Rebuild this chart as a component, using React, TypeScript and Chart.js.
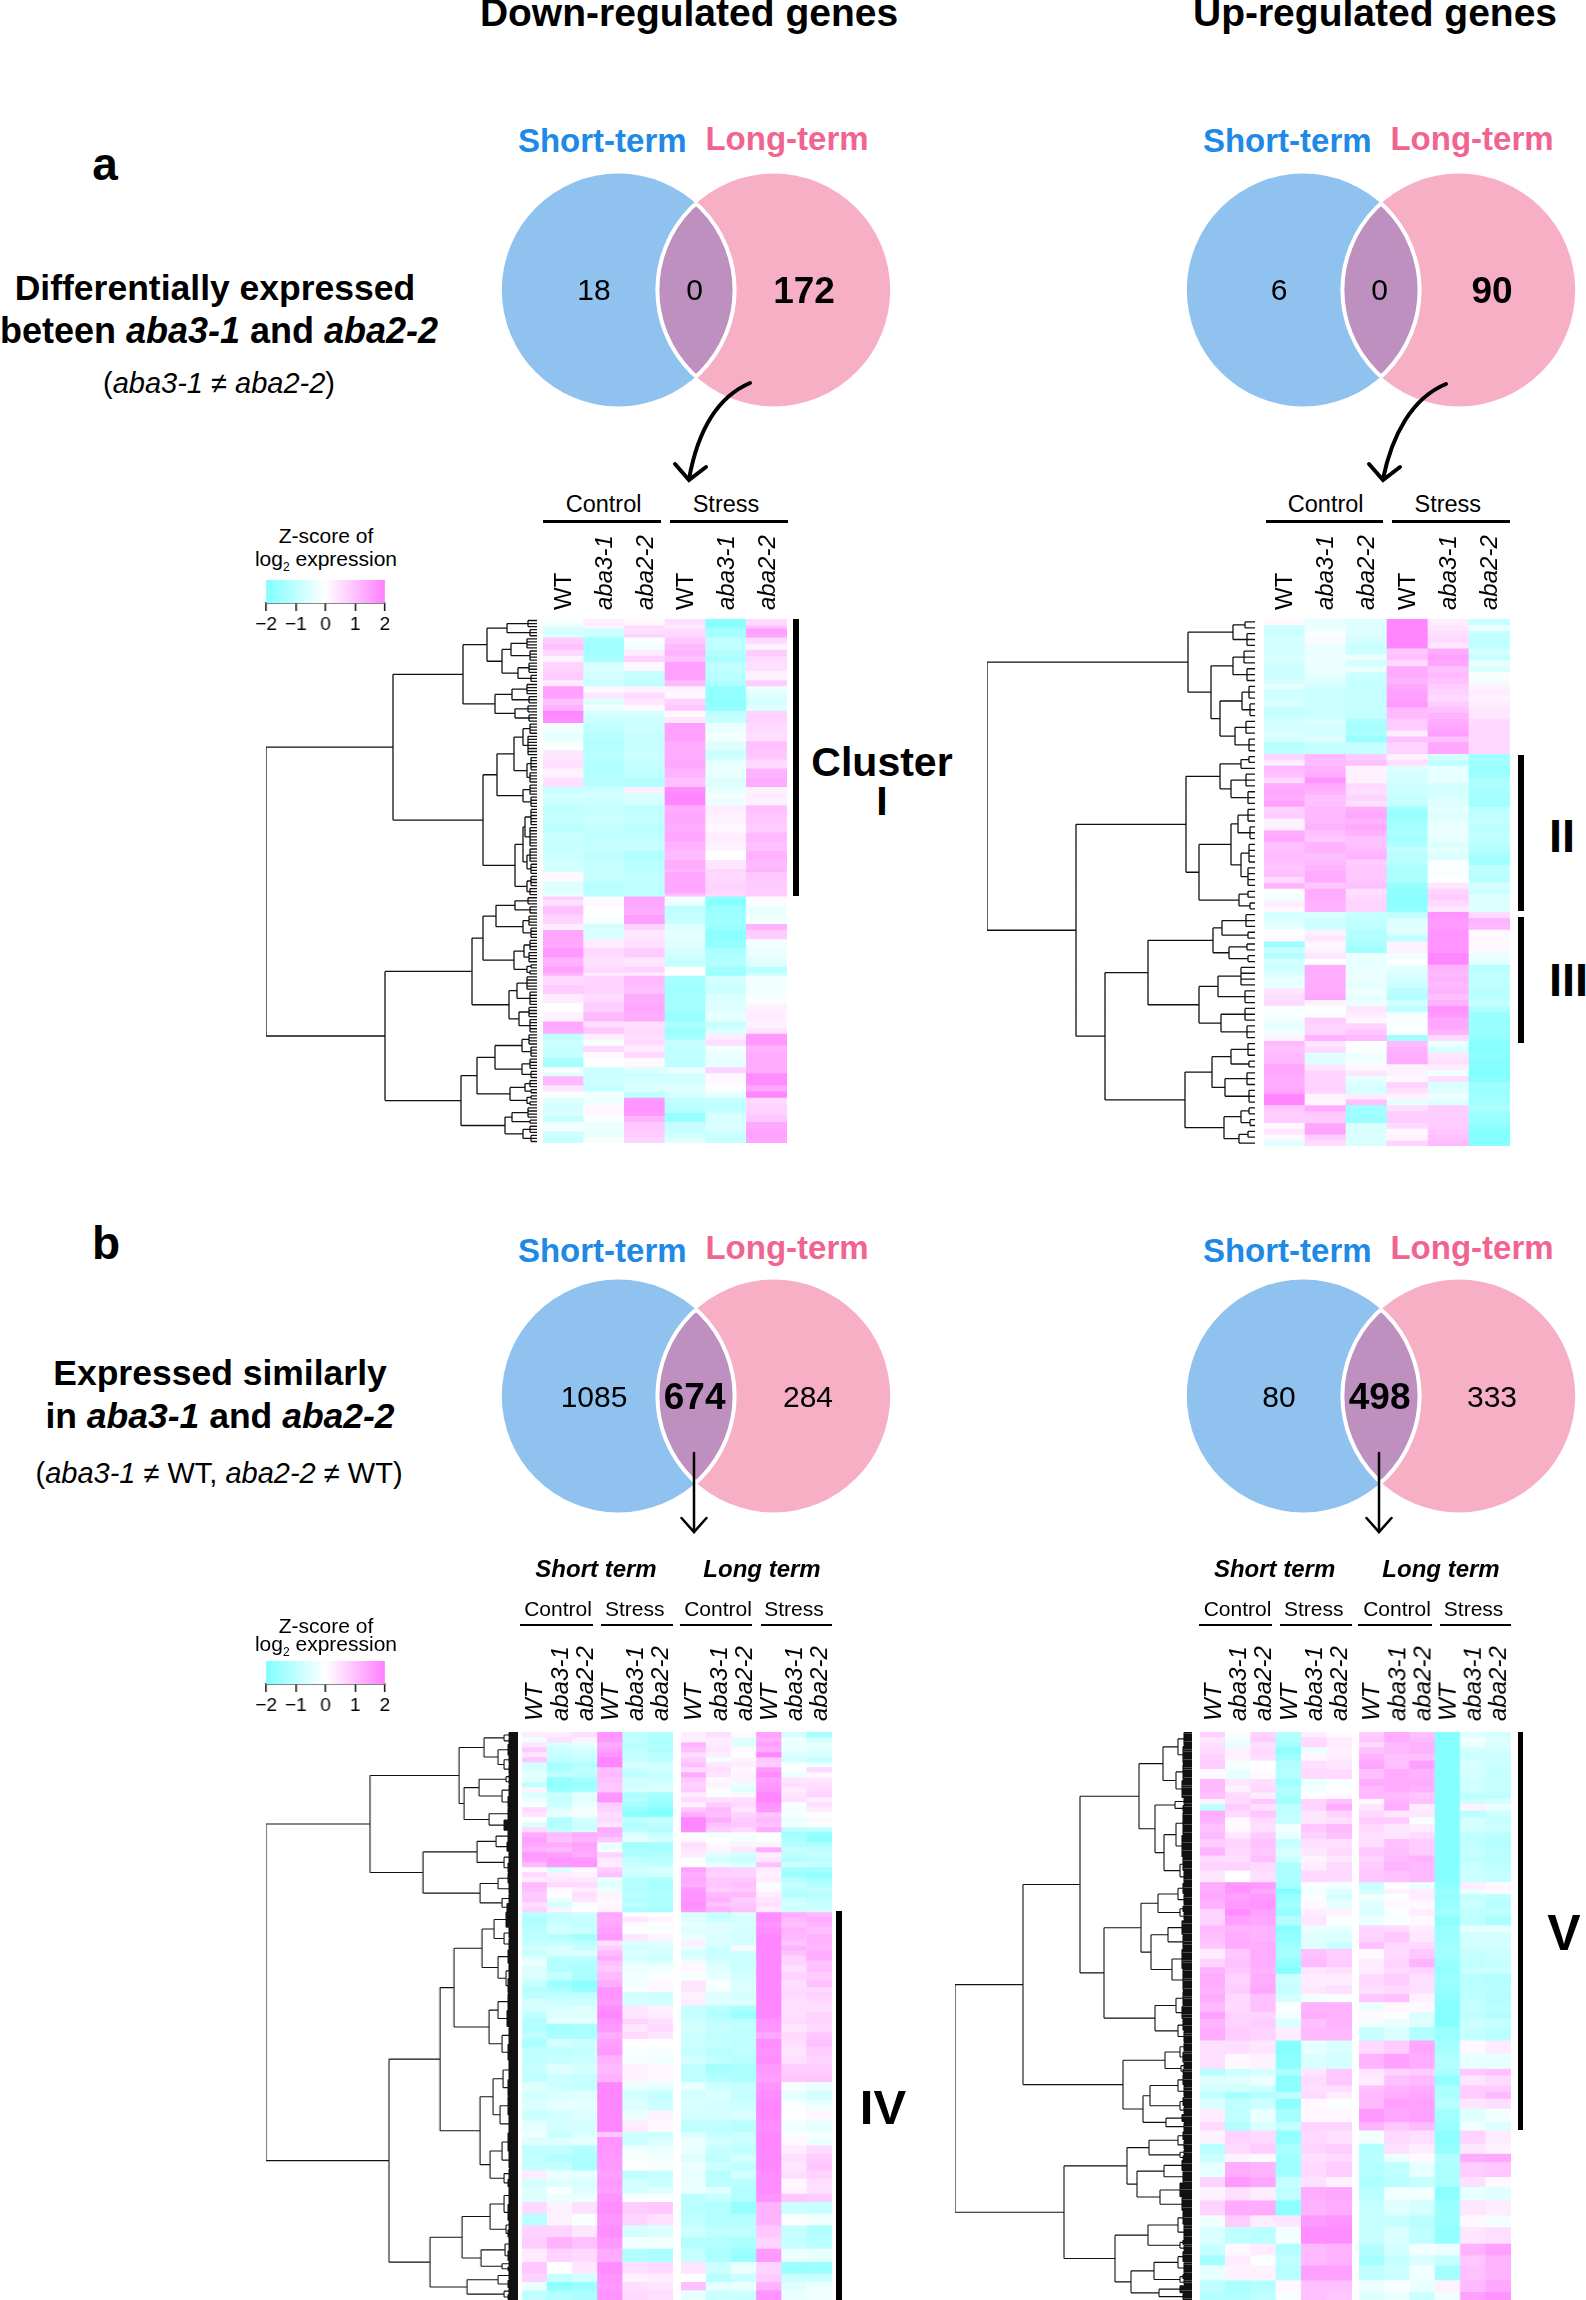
import React, { useEffect, useRef } from "react";
import { Chart, registerables } from "chart.js";

Chart.register(...registerables);

const FONT = '"Liberation Sans", Arial, sans-serif';

// ---------- Venn counts ----------
const vennDownDiff = [18, 0, 172];
const vennUpDiff = [6, 0, 90];
const vennDownSimilar = [1085, 674, 284];
const vennUpSimilar = [80, 498, 333];

// ---------- tick labels ----------
const samples = ["WT", "aba3-1", "aba2-2", "WT", "aba3-1", "aba2-2"];
const legendTicks = [-2, -1, 0, 1, 2];

// ---------- heat maps: [band size, z-scores per sample] ----------
const heatDownDiff = [
[2,-.1,.3,.1,.5,-1.9,.6],[1,-.5,.2,.6,.3,-1.8,1],[2,-.7,-.8,.5,.6,-1.4,1.5],[1,-.6,-.8,.7,.6,-1.4,1.4],
[2,.8,-1.4,-.1,.9,-1,.6],[2,1,-1.5,-.2,1.1,-1,.2],[2,.6,-1.4,.3,1.2,-1.2,.8],[2,.2,-1.3,.7,1,-1.3,.6],
[3,.7,-.6,.1,1.5,-1,.5],[3,.8,-.7,-.9,1.5,-1.1,.2],[2,.3,-.8,-1,1.1,-1.3,.8],
[2,1.5,.1,.2,.2,-1.7,-.3],[2,1.5,.4,.6,.1,-1.7,-.5],[2,1,-.5,.4,.7,-1.8,-.7],[2,1.2,-.2,.1,.9,-1.7,-.5],[2,1.9,-.7,-.7,.1,-1,.7],[2,1.8,-.8,-.8,.4,-.9,.7],
[3,-.2,-1,-.8,1.5,-.3,.6],[3,-.4,-1.1,-.9,1.5,-.2,.5],[3,-.1,-1.2,-.9,1.3,-.5,1],[3,.4,-1.1,-.8,1.3,-.8,.9],[3,.5,-1.2,-.9,1.4,-.4,.6],[3,.2,-1.2,-1,1.2,-.3,1.2],[3,.5,-1.1,-1.2,1,-.5,1.3],
[2,-.9,-.8,.3,1.8,-.4,.2],[2,-.7,-.7,-.6,1.9,-.2,.3],[2,-.8,-.8,-.7,1.9,-.3,.2],
[3,-1,-.9,-1,1.3,.3,1],[3,-.9,-.8,-.9,1.4,.2,.9],[3,-1.1,-.9,-1.1,1.3,.1,.8],[3,-.8,-1,-1,1.4,.3,1.1],[3,-.9,-.9,-.9,1.2,.2,1],[3,-.8,-1,-1.2,1.1,0,1.2],[3,-.7,-.9,-1.1,1.3,.4,1.1],[1,-.7,-.9,-1.1,1.1,.7,1.2],
[3,.1,-.9,-1,1.4,.6,.9],[4,-.5,-1.1,-1,1.4,.7,.8],[1,-.4,-1.1,-1,1,.6,.8],
[1,.8,-.1,1.4,-.2,-1.8,.1],[2,.5,.1,1.4,-.3,-1.9,-.1],[3,1,0,1.3,-1,-1.6,-.3],[3,.7,-.1,1.5,-.9,-1.5,-.2],[2,.3,-.7,.7,-.5,-1.6,1.2],[3,1.4,-.6,.4,-.4,-1.8,.8],[3,1.4,.3,.5,-.5,-1.7,-.2],[3,1.6,.6,.8,-.7,-1.3,-.3],[3,1.2,.5,.4,-.9,-1.2,-.5],[2,1.5,.6,.7,0,-1.5,-1.1],[1,1.2,.3,.3,0,-1.6,-.8],
[3,.6,.7,1.1,-1.4,-.7,-.2],[3,.8,.7,1,-1.5,-.8,-.2],[3,.3,.6,1.3,-1.4,-.6,-.1],[3,0,.8,1.4,-1.4,-.5,.2],[3,.2,1.1,1.3,-1.6,-.4,.3],[2,1.4,.5,.5,-1.3,-.9,.2],[2,1.3,.9,.6,-1.6,-.6,.4],
[2,-1,.3,.5,-1.4,.3,1.6],[2,-.8,-.1,.6,-.9,.5,1.6],[2,-.9,.6,.3,-1,-.2,1.2],[2,-.9,.1,.6,-1,-.3,1.3],[3,-1.4,0,.1,-1,-.4,1.3],[2,-.1,-.8,-.6,-.3,.7,1.3],[1,-.6,-.8,-.9,-.7,.1,1.8],[3,1.1,-.8,-.7,-.7,.1,1.8],[2,.4,-.9,-.5,-.5,-.1,1.4],[2,-.1,-.2,-1,-.6,-.4,1.9],
[2,-.5,-.3,1.6,-1,-.9,.6],[3,-.7,.1,1.7,-1.1,-1,.7],[1,-.5,.1,1.6,-1.7,-.6,.8],[2,-.9,-.1,1.2,-1.6,-.6,.9],[3,-.2,-.3,.9,-.9,-.6,1.4],[2,-.8,-.3,.8,-.8,-.8,1.5],[2,-.9,-.1,.7,-.5,-.9,1.4],
];

const heatUpDiff = [
[1,.1,-.4,-.5,1.9,.3,-.9],[1,-.8,-.3,-.5,1.9,.4,-.3],[1,-.8,-.1,-.5,1.9,.5,-.9],[1,-.7,.1,-.7,1.9,.6,-1],[1,-.7,-.3,-.8,1.9,.4,-1],[1,-.7,-.3,-.8,.9,1.3,-.7],[1,-.6,-.3,-.3,1,1.5,-.9],[1,-.7,-.3,-.7,.6,1.4,-.4],[1,-.8,-.3,-.3,1.3,1,-.6],[1,-.8,-.4,-.8,1.3,1.1,-.1],
[1,-.7,-.5,-.9,1.2,1,-.2],[1,-.4,-.7,-.9,1.4,.8,.2],[1,-.8,-.8,-.9,1.5,.7,.3],[1,-.7,-.8,-.9,1.5,.6,.2],[1,-.6,-.8,-.9,1.6,.8,.3],[1,-.9,-.8,-.9,1.1,1,.4],[1,-.9,-.8,-.9,1.1,1.2,.4],[1,-.7,-.6,-1.3,.8,1.3,.6],[1,-.7,-.7,-1.4,.8,1.4,.6],[1,-.6,-.7,-1.3,.3,1.5,.6],
[1,-.7,-.5,-1.6,1,1,.6],[1,-1.2,-.9,-.9,.7,1.4,.6],[1,-1,-.9,-.9,.7,1.4,.6],[1,.7,1.1,.8,.2,-.7,-1.5],[1,.3,1.1,1,.5,-1,-1.5],[1,1.1,1.2,.2,-.5,-.4,-1.6],[1,1,1.3,.2,-.7,-.4,-1.6],[1,.6,1.7,.2,-.7,-.4,-1.3],[1,1.3,1.3,.6,-.8,-.7,-1.3],[1,1.4,1.2,.5,-.8,-.7,-1.4],
[1,1.3,1,.7,-.9,-.6,-1.4],[1,1.5,1,.5,-.9,-.5,-1.5],[1,.7,1.1,1.3,-1.5,-.4,-1],[1,.8,1.1,1.4,-1.6,-.5,-1],[1,.2,1.1,1.2,-1.5,-.4,-.9],[1,.2,1.2,1.4,-1.4,-.3,-1.1],[1,1.3,1,1.2,-1.3,-.3,-1],[1,1.4,.9,1,-1.5,-.4,-1],[1,1,1.2,1,-1.2,-.5,-1.1],[1,1,1.2,1.1,-1,-.4,-1.2],
[1,1.1,1,1.2,-1.1,-.6,-1.4],[1,1,1.1,.8,-1.1,-.1,-1.5],[1,.9,1.2,.9,-1.3,-.1,-1],[1,1,1.3,.9,-1.3,-.1,-1.1],[1,.6,1.3,.9,-1.3,0,-1.1],[1,1.2,.9,1,-1.7,.4,-.7],[1,0,1.3,.5,-1.8,.7,-.8],[1,-.2,1.3,.6,-1.8,.8,-.5],[1,.3,1.2,.7,-1.8,.6,-.6],[1,.1,1.2,.7,-1.7,.4,-.5],
[1,-.7,-.6,-.9,-1,1.7,.6],[1,-.6,-.8,-1,-.5,1.6,1.2],[1,-.4,-.8,-1,-.5,1.6,1.1],[1,0,.2,-1.2,-.5,1.7,.1],[1,.1,.4,-1.2,-1,1.7,.1],[1,-1.6,.1,-1.3,.2,1.7,.1],[1,-.9,.2,-1.5,.2,1.7,.1],[1,-1.2,.4,-.3,-.2,1.9,-.4],[1,-.7,0,-.4,0,1.9,-.4],[1,-.8,1.3,-.3,-.4,1.2,-1.1],
[1,-.6,1.3,-.3,-.6,1.1,-1],[1,-.4,1.3,-.3,-.7,1.2,-1],[1,-.4,1.3,-.4,-.8,1.1,-1],[1,.4,1.3,-.2,-1.1,1.2,-1.1],[1,.5,1.4,-.4,-1.2,1,-1.1],[1,.6,.2,-.3,-.7,1.2,-.9],[1,-.1,0,.4,-1,1.7,-1.2],[1,-.1,-.1,.3,-.2,1.6,-1.6],[1,-.2,.8,.1,-.1,1.4,-1.6],[1,-.4,.7,.7,-.1,1.4,-1.6],
[1,-.2,.7,.9,-.1,1.2,-1.6],[1,.2,1.2,1.1,-1.5,.6,-1.7],[1,1.1,.4,0,1.1,-.3,-1.9],[1,1,.6,-.1,1.2,-.6,-1.9],[1,1.1,-.5,-.2,1.3,.4,-1.8],[1,1.1,-.5,-.2,1.3,.5,-1.9],[1,1.4,.4,.1,.2,.3,-1.9],[1,1.4,.7,.4,.2,-.2,-2],[1,1.3,.7,-.4,.1,.5,-1.9],[1,1.3,.7,-.6,.7,-.6,-1.5],
[1,1.4,.7,-.7,.5,-.5,-1.6],[1,1.9,.2,.3,.2,-.3,-1.5],[1,1.9,.1,1,-.4,-.5,-1.5],[1,.9,1.3,-1.5,.5,.8,-1.3],[1,.8,.9,-1.5,.8,.8,-1.6],[1,.8,.8,-1.6,.8,.8,-1.6],[1,.1,1.4,-.6,.6,.8,-1.8],[1,.4,1.5,-.6,.1,.9,-1.9],[1,.1,.8,-.6,.2,1,-1.9],[1,-.5,.6,-.6,.7,1.1,-1.9],
];

const heatDownSimilar = [
[3,.3,.3,.5,1.7,-1,-1.2,.3,.5,.1,1.5,-.7,-1.4],[3,-.2,.5,.2,1.6,-1,-1.3,.2,.3,-.5,1.3,-.2,-.7],[3,.4,-.6,-.4,1.3,-1.1,-1.2,1.2,.3,-.5,1.5,-.3,-.4],[3,.8,-.8,-.7,1.5,-1,-1.3,1,.4,.1,1.3,-.4,-.5],[3,.4,-.9,-.8,1.7,-.9,-1,.5,.3,0,1.9,-.6,-.6],[3,.9,-1,-.9,1.9,-.9,-1.1,.8,-.2,.2,.9,-.7,-.9],
[3,-.7,-1.4,-1.2,1.9,-.6,-.7,1,.4,.3,.8,-.1,-.3],[3,-.6,-1.3,-1,1,-.9,-.8,.6,.5,.1,1.6,-.1,.6],[3,-.4,-1,-1.1,1.1,-1,-.9,1.3,.4,.2,1.8,-.3,.1],[3,-.5,-1.7,-1.4,1,-.7,-.8,.9,.1,.2,1.5,.4,.4],[3,-1,-1.7,-1.6,.9,-.8,-.6,.7,.2,-.3,1.6,.5,.5],[3,.2,-1.6,-1.4,.9,-.6,-.6,.8,-.1,-.5,1.7,.3,.6],
[3,-.6,-.8,-.4,1.6,-1.3,-1.4,.3,-.1,.1,1.9,.4,.7],[3,-.3,-.9,-.5,1.7,-1.2,-1.5,.6,.5,.5,1.9,.5,.3],[3,-.1,-.8,-.3,.8,-1.4,-1.7,.2,.8,.6,1.7,-.1,.5],[3,.6,-.5,-.2,.7,-1.7,-1.9,.9,1.1,.4,1.6,-.2,.3],[3,.4,-.3,-.2,.5,-1.8,-1.9,1.3,1,.7,.9,-.1,-.1],[3,0,-1.2,-.7,.6,-1,-.9,1.9,1.3,.8,1.1,-.3,.1],[3,-.6,-1.2,-.8,.4,-1.2,-1,1.9,1,.9,1,-.2,-.1],[3,.6,-1,-.7,1.3,-1.1,-1.2,1.8,.8,.6,1.3,-1.1,-1],
[3,1.3,1.1,1.3,1.2,-.6,-.8,-.1,-.2,-.1,-.1,-1.5,-1.7],[3,1.5,1,1.2,.9,-.4,-.7,.1,0,-.2,-.1,-1.3,-1.8],[3,1.4,1.3,1.5,-.3,-1.5,-1.4,.5,.1,.2,.2,-1.2,-1.2],[3,1.2,1.1,1.4,-.2,-1.3,-1.4,.4,.2,.4,1.3,-.9,-1],[3,1.6,1.5,1.3,.7,-1.3,-1.2,.3,-.5,-.7,.3,-1,-.9],[3,1.5,1.7,1.6,.4,-1,-1.1,-.1,-.7,-.9,.4,-1.2,-1.1],[3,1.1,1.6,1.7,.3,-.9,-1,0,-.4,-.6,1,-.8,-.9],
[3,.1,-.6,.1,.8,-.7,-.6,1.5,.8,.7,.3,-1.4,-1.5],[3,.6,.3,.2,1,-.8,-.7,1.3,.7,.7,.2,-1.6,-1.7],[3,.3,.4,.4,-.4,-1.2,-1.3,1.4,.9,.9,.3,-1.1,-1.4],[3,1.1,.6,.6,-.5,-1.1,-1.4,1.3,.9,1,-.1,-.9,-1.2],[3,1,.1,.3,-.3,-1.2,-1.3,1.6,.8,.9,.1,-1.1,-1],[3,.8,0,.5,.2,-1.1,-1.2,1.7,1.1,1.1,.3,-1.2,-1.1],[3,.9,-.3,.4,.1,-1.2,-1.3,1.7,1.2,.8,.4,-.8,-1],[3,.5,-.7,-.1,.1,-1,-1.2,1.8,1,.9,.5,-.7,-.9],[3,.7,.2,0,.2,-1.3,-1.4,1.6,1.2,1,.3,-.8,-.7],
[3,-1.1,-.9,-.8,1.4,.1,0,-.6,-.9,-.6,1.8,1.3,1.1],[3,-1.3,-.9,-.9,1.3,.4,.2,-.5,-.8,-.7,1.8,1.1,1.3],[3,-1.2,-.8,-.9,1.4,.1,-.1,-.4,-.5,-.6,1.7,1,1.2],[4,-1.1,-.7,-.8,1.5,-.1,-.1,-.5,-.5,-.7,1.8,1.2,1],[4,-1,-1.2,-1.4,1.6,.4,.2,-.3,-.6,-.7,1.9,1.1,1.2],[3,-.9,-.9,-1,.5,-.5,-.5,.3,-.6,-.7,1.9,.9,1.2],[3,-.7,-.6,-.9,.8,-.7,-.6,-.4,-.8,.1,1.9,1.2,1.1],[3,-.9,-.6,-.5,1.1,-.6,-.7,-.7,-.8,-.8,1.9,1,1.3],[3,-.5,-1,-1,1.3,-.7,-.8,-.6,-.8,-.8,1.9,.7,1.3],[3,-.3,-1.2,-1.2,1,-.4,-.5,.1,-.6,-.8,1.9,.7,.9],
[4,-.5,-1.2,-1.3,.9,-.3,-.2,.1,-.5,-.8,1.9,.5,1],[5,-.6,-.9,-1.3,1.1,-.2,-.1,-.1,-.4,-.7,1.9,.7,.8],[4,-.9,-1.6,-1.8,1.3,-.2,.1,.4,-.1,-.6,1.9,.5,1],[3,-1.2,-1.3,-1.7,1.7,-.1,.1,.4,-.2,-.5,1.9,.6,.6],[4,-1,-1,-1,1.7,-.7,-.8,.2,-.5,-.7,1.9,.6,.7],[4,-.7,-.8,-.8,1.6,-.7,-.7,.3,-.5,-.5,1.9,.5,.6],[4,-.7,-.6,-.5,1.8,.4,.2,-.9,-1.1,-1.3,1.9,.5,.5],[4,-1,-.5,-.5,1.9,.4,.3,-.9,-1.2,-1.6,1.9,.5,.7],
[3,-1.2,-.4,-.4,1.7,.7,.5,-.8,-1,-1,1.7,.6,.7],[5,-1.2,-1.4,-1.3,1.6,.4,.6,-.7,-.9,-1,1.7,.4,.6],[4,-1,-1.3,-1.3,1.3,.6,.4,-.8,-1,-1,1.4,.6,.9],[5,-1.3,-.7,-.8,1.5,0,0,-.8,-.9,-1,1.8,.5,1],[5,-1,-1,-.9,1.6,-.1,-.1,-.9,-1.1,-1,1.7,.4,.8],[5,-1,-.9,-.8,1.2,-.1,-.2,-.7,-1,-1.1,1.8,.5,.7],[6,-.9,-.5,-.7,1.1,.2,.1,-1,-1.4,-1.3,1.6,.8,.8],[5,-1,-.8,-.9,1.2,.2,.1,-1,-1.2,-1.3,1.5,.9,.9],
[5,-.5,-.8,-.9,1.9,-.3,-.4,-.4,-.8,-.9,1.7,-.1,-.3],[6,-.7,-.6,-.5,1.9,-.7,-.9,-.7,-.6,-.9,1.8,-.4,-.7],[6,-.6,-.4,-.4,1.9,-.5,-.8,-.6,-.7,-.8,1.9,-.1,-.3],[6,-.8,-.7,-.5,1.9,-.3,.2,-.7,-.7,-.6,1.9,0,.1],[7,-.4,-.7,-.7,1.9,.3,.1,-1,-1,-1.1,1.8,-.2,-.4],[3,-.2,-.9,-.5,.9,-.8,-.8,-.6,-.9,-.8,1.9,-.1,-.1],[5,-.5,-.5,-.4,1.7,-.8,-.6,-.3,-.7,-.8,1.9,.1,-.3],[5,-1,-1,-1.2,1.7,-.2,-.3,-.3,-.9,-1,1.9,.3,.6],
[5,-1,-1.2,-1.3,1.6,-.1,-.2,-.5,-1,-.7,1.9,.5,.8],[5,-.9,-.9,-1.3,1.6,0,-.1,-.3,-.8,-1,1.9,.4,.9],[5,.3,-.3,-.4,1.5,-1,-.9,-.4,-1.1,-.7,1.8,.5,.7],[5,-.7,-.5,-.6,1.6,-.7,-.8,-.3,-1.1,-1.1,1.8,.1,.5],[4,-.5,-.1,-.5,1.5,-.7,-.5,-.3,-.5,-1.2,1.8,.2,.5],[5,-.5,-.3,-.3,1.7,-.1,-.1,-1.1,-.9,-1.2,1.7,.9,.8],[7,.6,.2,.5,1.8,.8,.9,-1.1,-1.2,-1.7,1.2,-.8,-.9],[7,-1.1,.2,-.1,1.7,.7,.5,-1,-1.2,-1.2,1.2,-.1,-.2],
[7,.7,.7,.4,1.8,-.7,-.6,-.8,-1,-1,.9,-.9,-1.2],[7,.8,1.2,1,1.6,-.2,-.2,-1.2,-1.2,-1.3,.7,-.9,-1.1],[8,.3,.7,.6,1.3,-1.2,-1.3,-.9,-1.3,-1.6,1.6,-.3,-.4],[7,.9,0,.4,1.8,.5,.6,.4,-.8,-.3,.7,-1.6,-1.6],[5,.7,-.9,-.7,1.7,.2,.3,0,-1.1,-.8,.8,-.8,-.8],[5,-.3,-1.8,-1.6,1.6,.5,.4,1,-.4,-.3,1.2,-.5,-.3],[6,-1,-1.2,-1.3,1.7,.6,.5,-.4,-.8,-.8,1.7,-.3,-.2],
];

const heatUpSimilar = [
[3,.7,-.1,.7,-1.2,.3,.1,.8,1.3,1,-1.9,-.5,-.7],[3,.4,-.2,.8,-1.2,.6,.3,.9,1.3,1.1,-1.9,-.2,-.5],[3,.5,-.4,.5,-1.4,.6,.3,.6,1.1,1.2,-1.9,-.3,-.6],[4,.6,.2,.6,-1.8,-.3,.2,1,1.1,1.2,-1.9,-.7,-.7],[4,.7,.2,.5,-1.5,.1,.3,1.2,1,1,-1.9,-.8,-.8],[5,.8,-.1,0,-1.2,.5,.4,1.4,1,1.5,-1.9,-.6,-.8],[6,.1,-.4,.1,-1.2,.6,.6,1,1.3,1.2,-1.9,-.7,-.9],[4,1.1,.4,.5,-1.5,-.3,-.1,1.3,1.3,1.3,-1.9,-.8,-.9],[4,1.1,.2,.6,-1.2,-.2,0,1.1,1.3,1.2,-1.9,-.7,-.9],[4,1,.6,.3,-1.3,0,.1,1.1,1.1,.9,-1.9,-1,-1],
[3,.2,.6,.9,-1.5,.7,1,.1,1.2,1,-1.9,-.8,-.7],[4,-1,.8,.5,-1,.7,1.3,.4,1.3,.3,-1.9,.2,-.3],[4,1.3,.6,.9,-1,.4,.7,.6,.4,.4,-1.9,-1.1,-.8],[4,1.2,.1,.6,-.9,.4,.5,.8,.8,-.1,-1.9,-.7,-.9],[5,1,.1,.5,-.2,.9,1.1,.6,.4,.3,-1.9,-.7,-.8],[4,1.1,.4,.8,-.4,.7,1,.5,.4,.6,-1.9,-1,-1.1],[5,.8,.7,1,-.9,.5,.5,.5,1,.8,-1.9,-1,-1.2],[5,1.2,.6,.9,-.6,.4,.6,.9,1,.8,-1.9,-.9,-1.1],[4,.6,.5,1,-.8,.2,.4,.7,1.1,1.2,-1.9,-1,-1.1],[5,.7,.7,.6,-1.3,.3,.6,.8,1.2,1.1,-1.9,-.8,-1],[7,.4,0,.5,-1.3,.6,.6,.9,1,1.1,-1.9,-.8,-.9],
[4,1.3,1.7,1.6,-1.4,-.1,-.2,-.8,0,-.3,-1.8,.3,.1],[3,1.3,1.7,1.4,-2,-.2,-.5,-.7,.2,.3,-1.6,-.3,.1],[4,1.4,1.5,1.6,-1.6,-.1,-.7,-.2,-.1,.3,-1.7,-.9,-1],[5,1.2,1.6,1.7,-1.5,.1,-.4,-.5,.1,.1,-1.6,-.8,-1.1],[4,.7,1.8,1.5,-1.7,.3,.2,-.6,-.1,.3,-1.5,-1,-1],[6,.7,1.5,1.4,-1.2,.4,-.1,-.3,-.1,.1,-1.8,-1,-1.3],[4,1.1,1.2,1.2,-1.9,-.3,-.4,.7,.6,.3,-1.6,-.4,-.4],[6,1,1.3,1.2,-1.7,-.5,-.6,.7,.9,.4,-1.6,-.7,-.7],[4,.9,1.3,1.3,-1.5,-.5,-.9,1,.6,.6,-1.5,-.7,-.7],[6,.3,.9,1.3,-1.4,1,.8,.1,.6,.9,-1.5,-.9,-.8],[5,.7,1,1.3,-1.7,1.1,.8,.3,.7,1.2,-1.6,-1,-.9],[4,1.2,.9,1.2,-1.9,.4,.5,.3,.6,.7,-1.7,-.8,-.8],[7,1.3,.7,1.3,-.8,.3,.3,.6,.8,.5,-1.6,-1.1,-1.2],[5,1.2,.8,1.4,-.9,.4,.5,.5,.6,.5,-1.7,-1.1,-1.1],[5,1.3,.6,1,-.7,-.2,-.1,.9,1,.2,-1.8,-1,-1.2],[6,1.1,.6,1,-.1,1.2,1.2,-.3,.1,.1,-1.9,-.9,-1.1],[4,1.5,.7,.7,-.2,1.3,1.2,.1,0,-.6,-1.9,-1,-1.2],
[5,1.2,.7,.8,-.6,1,1.2,-.2,-.3,-.5,-1.9,-.8,-.9],[8,1.3,.8,.7,.3,1.1,1.1,-.9,-.6,-1.2,-1.6,-.9,-1.1],[8,.5,.5,.4,-1.9,-.4,-.6,.6,.8,1.4,-1.4,.1,.3],[9,.5,.1,.2,-1.8,-.6,-.7,1.2,1.5,1.3,-1.2,-.4,-.4],[4,-1.2,-.8,-.7,-1.3,.4,.9,.4,.7,.8,-1.3,.9,1],[6,-.5,-.5,-.3,-1.8,.6,.9,.3,1,1.1,-1.7,.4,.6],[4,-.7,-.7,-.8,-1.8,.5,.5,1,1.2,1.3,-1.3,.8,.8],[4,-1,-1.4,-1.2,-1,.6,.3,1.1,1.3,1.4,-1.3,.8,1.1],[6,-.6,-1,-.8,-1.8,.1,-.1,1.1,1.5,1.5,-1.1,.4,.5],[8,.3,-1,-.3,-1.4,.1,.1,1.6,1.4,1.5,-1.5,-.5,-.2],[5,.6,-1.2,-.6,-.9,.7,.7,1.2,.9,1.1,-1.6,-.2,-.5],
[8,.2,.7,.6,-1.7,.6,.5,-.2,.6,.5,-1.8,.7,.3],[6,-1.1,.6,.8,-1.3,.7,.8,-1.2,.5,.3,-1.7,.4,.2],[5,-.8,.2,.1,-1.5,.5,.6,-1.1,-.3,.1,-1.2,1.3,1.4],[9,-.4,1.3,1.2,-1.5,.6,.8,-1.2,-1,-.4,-1.3,.8,.9],[6,.7,1.6,1.4,-.9,.5,.2,-1.3,-1.1,-.9,-1.3,.5,.1],[8,.2,.5,.3,-1,1.3,1.4,-1.1,-.2,-.2,-1.8,-.4,-.5],[9,.7,1.3,1.3,-1.8,1.2,1.3,-.9,-.5,-.7,-1.6,.4,.3],[7,-.2,.8,.3,.4,1.6,1.7,-.9,-.9,-1.1,-1.6,.1,-.2],[10,-.6,-1,-1.1,-.2,1.8,1.8,-.9,-.6,-1,-1.7,.4,.5],[7,-.9,.1,.3,-1.2,1.1,1.2,-1.2,-.7,-.2,-.3,1.2,1.5],[6,-1.4,.3,-.1,-1,1.1,1.2,-1.4,-.9,-.6,-.9,.9,1.2],[9,-.4,.2,.2,-1.1,1.5,1.5,-1,-.8,-.2,-1.4,1,1.2],[7,-1,-1.3,-1.2,.1,1,1,-.3,-.1,-.3,.2,1.1,1.4],[5,-1.2,-1.2,-1,-.1,1,.9,-.5,-.3,-.8,-.2,1.5,1.7],
];

// ---------- dendrograms: [height, child, child, ...]; [height, firstRow, endRow] is a bunch of leaves ----------
const treeDownDiff = [271,
 [144,
  [74,
   [50,[30,[9,0,3],[7,3,6]],[35,[26,[10,6,10],[7,10,14]],[19,[8,14,18],[6,18,21]]]],
   [42,[25,[10,21,25],[8,25,28]],[22,[9,28,31],[8,31,34]]]],
  [54,
   [40,[23,[14,[7,34,38],[9,38,45]],[10,[6,45,50],[7,50,54]]],[14,[7,54,58],[6,58,62]]],
   [22,[14,[12,[6,62,68],[7,68,75]],[10,[7,75,80],[6,80,84]]],[10,[6,84,88],[7,88,91]]]]],
 [152,
  [65,
   [54,
    [41,[22,[9,91,94],[7,94,97]],[14,[8,97,101],[6,101,105]]],
    [23,[13,[7,105,109],[8,109,113]],[10,[6,113,115],[7,115,117]]]],
   [28,[20,[10,117,122],[7,122,127]],[18,[8,127,131],[7,131,136]]]],
  [76,
   [60,
    [42,[15,[8,136,140],[6,140,144]],[15,[7,144,148],[6,148,151]]],
    [27,[12,[7,151,154],[6,154,156]],[10,[6,156,158],[7,158,160]]]],
   [32,[25,[9,160,164],[7,164,166]],[14,[7,166,169],[6,169,172]]]]]];

const treeUpDiff = [268,
 [67,
  [22,[10,0,2],[8,2,5]],
  [44,
   [22,[11,5,8],[8,8,11]],
   [35,[13,[6,11,14],[5,14,17]],[20,[9,17,20],[6,20,23]]]]],
 [179,
  [69,
   [35,[14,[6,23,25],[5,25,26]],[24,[9,26,29],[7,29,32]]],
   [56,
    [24,[17,[7,32,35],[5,35,38]],[14,[6,38,42],[7,42,46]]],
    [16,[7,46,48],[5,48,50]]]],
  [150,
   [107,
    [42,[33,[9,50,53],[7,53,55]],[26,[8,55,57],[7,57,59]]],
    [56,[37,[14,59,63],[10,63,66]],[34,[10,66,69],[8,69,72]]]],
   [70,
    [43,[24,[7,72,75],[6,75,77]],[30,[8,77,80],[6,80,83]]],
    [31,[14,[6,83,85],[5,85,87]],[16,[7,87,89],[5,89,90]]]]]]];

const treeDownSimilar = [252,
 [148,
  [59,
   [34,[14,[9,0,7],[9,7,14]],[20,[10,14,28],[14,[9,28,38],[9,38,50]]]],
   [54,
    [39,[12,[9,50,56],[9,56,62]],[16,[9,62,76],[10,76,90]]],
    [29,[10,90,104],[14,104,117]]]],
  [95,
   [41,[22,[10,117,130],[11,130,142]],[14,[9,142,155],[10,155,167]]],
   [38,[20,[10,167,180],[9,180,192]],[16,[9,192,203],[11,203,213]]]]],
 [129,
  [78,
   [64,
    [36,[24,[12,213,232],[14,[9,232,245],[9,245,258]]],[20,[10,258,275],[12,[9,275,292],[10,292,310]]]],
    [29,[20,[10,310,330],[11,330,350]],[16,[9,350,370],[10,370,390]]]],
   [38,
    [25,[15,[9,390,412],[10,412,432]],[18,[10,432,455],[9,455,475]]],
    [28,[16,[10,475,498],[9,498,518]],[14,[9,518,530],[10,530,540]]]]],
  [88,
   [56,[28,[14,[9,540,560],[10,560,580]],[12,[9,580,590],[10,590,600]]],[37,[13,[9,600,615],[10,615,628]],[16,[9,628,634],[10,634,640]]]],
   [51,[20,[9,640,650],[10,650,660]],[14,[9,660,667],[10,667,674]]]]]];

const treeUpSimilar = [237,
 [169,
  [112,
   [53,
    [29,[14,[8,0,12],[9,12,28]],[16,[9,28,42],[10,42,58]]],
    [37,[17,[8,58,64],[9,64,70]],[28,[16,[9,70,90],[10,90,110]],[12,[9,110,122],[8,122,132]]]]],
   [88,
    [51,
     [34,[14,[9,132,142],[8,142,152]],[12,[9,152,158],[8,158,165]]],
     [41,[24,[10,165,178],[9,178,190]],[20,[10,190,208],[9,208,227]]]],
    [37,[16,[9,227,240],[10,240,252]],[14,[9,252,262],[8,262,272]]]]],
  [69,
   [27,[12,[8,272,280],[9,280,290]],[11,[8,290,295],[9,295,300]]],
   [49,[42,[14,[9,300,310],[8,310,320]],[12,[9,320,328],[8,328,335]]],[26,[10,335,342],[8,342,350]]]]],
 [128,
  [65,
   [43,[14,[9,350,358],[8,358,366]],[12,[8,366,371],[9,371,375]]],
   [55,[28,[10,375,385],[9,385,395]],[32,[12,395,408],[10,408,420]]]],
  [77,
   [44,[14,[9,420,432],[8,432,445]],[12,[9,445,450],[8,450,455]]],
   [61,[38,[14,[9,455,465],[8,465,475]],[12,[9,475,480],[8,480,485]]],[33,[12,485,492],[9,492,498]]]]]];

// ---------- styles ----------
const BLUE_CIRCLE = "#90c2f0";
const PINK_CIRCLE = "#f7afc5";
const LENS = "#bd90c0";
const zColor = (z: number) => {
  const t = Math.min(1, Math.abs(z) / 2);
  const c = Math.round(255 - 127 * t);
  return z < 0 ? `rgb(${c},255,255)` : `rgb(255,${c},255)`;
};

function ChartBox({ make, left, top, width, height }: any) {
  const ref = useRef<HTMLCanvasElement>(null);
  useEffect(() => {
    const chart = new Chart(ref.current as any, make());
    return () => chart.destroy();
  }, []);
  return <canvas ref={ref} width={width} height={height} style={{ position: "absolute", left, top, width, height, display: "block" }} />;
}

const baseOptions = {
  responsive: false,
  animation: false as const,
  events: [] as string[],
  plugins: { legend: { display: false }, tooltip: { enabled: false } },
};

// ---------- heat map ----------
function Heat({ rows, from, to, x, y, w, h, font, italicWT, axisH, pad }: any) {
  const sidePad = 10;
  const make = () => {
    const total = rows.reduce((s: number, r: number[]) => s + r[0], 0);
    return {
      type: "bar",
      data: {
        labels: samples,
        datasets: rows.map((r: number[]) => ({
          data: r.slice(from, to).map(() => r[0]),
          backgroundColor: r.slice(from, to).map(zColor),
          borderWidth: 0,
          barPercentage: 1,
          categoryPercentage: 1,
        })),
      },
      options: {
        ...baseOptions,
        layout: { padding: { left: sidePad, right: sidePad, top: 0, bottom: 0 } },
        scales: {
          x: {
            position: "top",
            stacked: true,
            grid: { display: false, drawTicks: false },
            border: { display: false },
            ticks: {
              autoSkip: false,
              minRotation: 90,
              maxRotation: 90,
              padding: pad,
              labelOffset: 30,
              color: "#000",
              font: (c: any) => ({
                family: FONT,
                size: font,
                style: c.tick && c.tick.label === "WT" && !italicWT ? "normal" : "italic",
              }),
            },
            afterFit: (s: any) => {
              s.height = axisH;
              s.paddingLeft = 0;
              s.paddingRight = 0;
              s.paddingTop = 0;
              s.paddingBottom = 0;
            },
          },
          y: { display: false, stacked: true, reverse: true, min: 0, max: total },
        },
      },
    };
  };
  return <ChartBox make={make} left={x - sidePad} top={y - axisH} width={w + 2 * sidePad} height={h + axisH} />;
}

// ---------- dendrogram ----------
function flatten(node: any[], out: any[]): { h: number; y: number } {
  const h = node[0];
  const kids = node.slice(1);
  const push = (a: number, b: number, c: number, d: number) => {
    out.push({ x: a, y: b }, { x: c, y: d }, { x: NaN, y: NaN });
  };
  if (typeof kids[0] === "number") {
    const [r1, r2] = kids;
    push(h, r1 + 0.5, h, r2 - 0.5);
    for (let r = r1; r < r2; r++) push(h, r + 0.5, 0, r + 0.5);
    return { h, y: (r1 + r2) / 2 };
  }
  const placed = kids.map((k: any[]) => flatten(k, out));
  const y0 = placed[0].y;
  const y1 = placed[placed.length - 1].y;
  push(h, y0, h, y1);
  placed.forEach((p: any) => push(h, p.y, p.h, p.y));
  return { h, y: (y0 + y1) / 2 };
}

function Dendro({ tree, rows, x, y, w, h, lw }: any) {
  const margin = 2;
  const make = () => {
    const pts: any[] = [];
    flatten(tree, pts);
    return {
      type: "scatter",
      data: { datasets: [{ data: pts, showLine: true, spanGaps: false, pointRadius: 0, borderColor: "#111", borderWidth: lw, tension: 0 }] },
      options: {
        ...baseOptions,
        layout: { padding: { left: margin, right: 0, top: 0, bottom: 0 } },
        scales: {
          x: { display: false, type: "linear", reverse: true, min: 0, max: tree[0] },
          y: { display: false, type: "linear", reverse: true, min: 0, max: rows },
        },
      },
    };
  };
  return <ChartBox make={make} left={x - margin} top={y} width={w + margin} height={h} />;
}

// ---------- colour key ----------
function ColorKey({ x, y }: any) {
  const padL = 32, padR = 32, barH = 23, axisH = 46, w = 118.4;
  const make = () => ({
    type: "bar",
    data: {
      labels: ["z"],
      datasets: [{
        data: [[legendTicks[0], legendTicks[4]]],
        barPercentage: 1,
        categoryPercentage: 1,
        borderWidth: 0,
        backgroundColor: (c: any) => {
          const a = c.chart.chartArea;
          if (!a) return "#fff";
          const g = c.chart.ctx.createLinearGradient(a.left, 0, a.right, 0);
          legendTicks.forEach((t, i) => g.addColorStop(i / 4, zColor(t)));
          return g;
        },
      }],
    },
    options: {
      ...baseOptions,
      indexAxis: "y",
      layout: { padding: { left: padL, right: padR, top: 0, bottom: 0 } },
      scales: {
        x: {
          type: "linear",
          min: -2,
          max: 2,
          position: "bottom",
          grid: { display: true, drawOnChartArea: false, drawTicks: true, tickLength: 8, color: "#111", lineWidth: 1.5 },
          border: { display: true, color: "#111", width: 1.5 },
          ticks: {
            stepSize: 1,
            autoSkip: false,
            maxRotation: 0,
            padding: 2,
            color: "#000",
            font: { family: FONT, size: 19 },
            callback: (v: number) => (v < 0 ? "\u2212" + Math.abs(v) : String(v)),
          },
          afterFit: (s: any) => {
            s.height = axisH;
            s.paddingLeft = 0;
            s.paddingRight = 0;
          },
        },
        y: { display: false },
      },
    },
  });
  return <ChartBox make={make} left={x - padL} top={y} width={w + padL + padR} height={barH + axisH} />;
}

// ---------- Venn ----------
const lensPlugin = {
  id: "lens",
  afterDatasetsDraw(chart: any) {
    const a = chart.getDatasetMeta(0).data[0];
    const b = chart.getDatasetMeta(1).data[0];
    const r = a.options.radius;
    const ctx = chart.ctx;
    ctx.save();
    ctx.beginPath();
    ctx.arc(a.x, a.y, r, 0, Math.PI * 2);
    ctx.clip();
    ctx.fillStyle = LENS;
    ctx.beginPath();
    ctx.arc(b.x, b.y, r, 0, Math.PI * 2);
    ctx.fill();
    ctx.strokeStyle = "#fff";
    ctx.lineWidth = 4;
    ctx.stroke();
    ctx.restore();
    ctx.save();
    ctx.beginPath();
    ctx.arc(b.x, b.y, r, 0, Math.PI * 2);
    ctx.clip();
    ctx.strokeStyle = "#fff";
    ctx.lineWidth = 4;
    ctx.beginPath();
    ctx.arc(a.x, a.y, r, 0, Math.PI * 2);
    ctx.stroke();
    ctx.restore();
  },
};

function Venn({ x, y }: any) {
  // x, y: page position of the midpoint between the two circles
  const W = 410, H = 250;
  const make = () => ({
    type: "bubble",
    data: {
      datasets: [
        { data: [{ x: -77.8, y: 0, r: 116.4 }], backgroundColor: BLUE_CIRCLE, borderWidth: 0, clip: false },
        { data: [{ x: 77.8, y: 0, r: 116.4 }], backgroundColor: PINK_CIRCLE, borderWidth: 0, clip: false },
      ],
    },
    options: {
      ...baseOptions,
      layout: { autoPadding: false, padding: 0 },
      scales: {
        x: { display: false, type: "linear", min: -W / 2, max: W / 2 },
        y: { display: false, type: "linear", min: -H / 2, max: H / 2 },
      },
    },
    plugins: [lensPlugin],
  });
  return <ChartBox make={make} left={x - W / 2} top={y - H / 2} width={W} height={H} />;
}

// ---------- text ----------
function T({ x, y, size, bold, italic, color, anchor, children }: any) {
  const tx = anchor === "start" ? "0" : anchor === "end" ? "-100%" : "-50%";
  return (
    <div
      style={{
        position: "absolute",
        left: x,
        top: y - 0.3465 * size,
        lineHeight: 0,
        height: 0,
        fontSize: size,
        fontWeight: bold ? 700 : 400,
        fontStyle: italic ? "italic" : "normal",
        color: color || "#000",
        whiteSpace: "nowrap",
        transform: `translateX(${tx})`,
        fontFamily: FONT,
      }}
    >
      {children}
    </div>
  );
}
const I = ({ children }: any) => <span style={{ fontStyle: "italic" }}>{children}</span>;

const Bar = ({ x1, x2, y1, y2 }: any) => (
  <div style={{ position: "absolute", left: x1, top: y1, width: x2 - x1, height: y2 - y1, background: "#000" }} />
);

function VennLabels({ dx, baseY, counts, boldIdx, shortY, longY, x3 }: any) {
  const xs = [594 + dx, 694.6 + dx, x3 + dx];
  return (
    <>
      <T x={602.3 + dx} y={shortY} size={33} bold color="#2089e6">Short-term</T>
      <T x={787 + dx} y={longY} size={33} bold color="#f0648f">Long-term</T>
      {counts.map((c: number, i: number) => (
        <T key={i} x={xs[i]} y={baseY + (i === boldIdx ? 3 : 0)} size={i === boldIdx ? 37 : 30} bold={i === boldIdx}>{c}</T>
      ))}
    </>
  );
}

function KeyTitle({ y1, y2 }: any) {
  return (
    <>
      <T x={326} y={y1} size={21}>Z-score of</T>
      <T x={326} y={y2} size={21}>
        log<span style={{ fontSize: 12, position: "relative", top: 5 }}>2</span> expression
      </T>
    </>
  );
}

function Arrows() {
  const s = { fill: "none", stroke: "#000", strokeLinecap: "round" as const, strokeLinejoin: "miter" as const };
  return (
    <svg width={1586} height={2300} style={{ position: "absolute", left: 0, top: 0 }}>
      <path d="M750 383 C715 398 697 435 689 479" strokeWidth={4} {...s} />
      <path d="M675 464 L689 480 L706 467" strokeWidth={4} {...s} />
      <path d="M1446 384 C1412 398 1392 435 1383 479" strokeWidth={4} {...s} />
      <path d="M1369 464 L1383 480 L1400 467" strokeWidth={4} {...s} />
      <path d="M694 1453 L694 1532" strokeWidth={2.5} {...s} />
      <path d="M681.5 1518 L694 1532 L706.5 1518" strokeWidth={2.5} {...s} />
      <path d="M1379 1453 L1379 1532" strokeWidth={2.5} {...s} />
      <path d="M1366.5 1518 L1379 1532 L1391.5 1518" strokeWidth={2.5} {...s} />
    </svg>
  );
}

export default function App() {
  return (
    <div style={{ position: "absolute", left: 0, top: 0, width: 1586, height: 2300, overflow: "hidden", background: "#fff", fontFamily: FONT }}>
      <T x={689} y={27} size={39} bold>Down-regulated genes</T>
      <T x={1375} y={27} size={39} bold>Up-regulated genes</T>

      {/* panel a */}
      <T x={105} y={180} size={46} bold>a</T>
      <T x={215} y={300} size={35.5} bold>Differentially expressed</T>
      <T x={219} y={343} size={36} bold>beteen <I>aba3-1</I> and <I>aba2-2</I></T>
      <T x={219} y={393} size={29}>(<I>aba3-1 ≠ aba2-2</I>)</T>

      <Venn x={695.8} y={289.6} />
      <Venn x={1380.8} y={289.6} />
      <VennLabels dx={0} baseY={300.5} counts={vennDownDiff} boldIdx={2} shortY={152} longY={150} x3={804} />
      <VennLabels dx={685} baseY={300.5} counts={vennUpDiff} boldIdx={2} shortY={152} longY={150} x3={807} />

      <KeyTitle y1={543} y2={566.5} />
      <ColorKey x={266.4} y={580} />

      <T x={603.6} y={512} size={23.5}>Control</T>
      <T x={726} y={512} size={23.5}>Stress</T>
      <Bar x1={543} x2={661} y1={519.5} y2={523} />
      <Bar x1={670} x2={787.5} y1={519.5} y2={523} />
      <Dendro tree={treeDownDiff} rows={172} x={265.9} y={618.8} w={271.1} h={524.7} lw={1.3} />
      <Heat rows={heatDownDiff} from={1} to={7} x={543.4} y={618.8} w={244.1} h={524.7} font={24} italicWT={false} axisH={95} pad={9} />
      <Bar x1={793} x2={799} y1={619} y2={896} />
      <T x={882} y={776} size={41} bold>Cluster</T>
      <T x={882} y={815} size={41} bold>I</T>

      <T x={1325.7} y={512} size={23.5}>Control</T>
      <T x={1447.8} y={512} size={23.5}>Stress</T>
      <Bar x1={1265.8} x2={1383} y1={519.5} y2={523} />
      <Bar x1={1392} x2={1509.7} y1={519.5} y2={523} />
      <Dendro tree={treeUpDiff} rows={90} x={986.7} y={619} w={268} h={527} lw={1.3} />
      <Heat rows={heatUpDiff} from={1} to={7} x={1263.8} y={619} w={246.7} h={527} font={24} italicWT={false} axisH={95} pad={9} />
      <Bar x1={1517.7} x2={1523.7} y1={755.4} y2={910.6} />
      <Bar x1={1517.7} x2={1523.7} y1={917} y2={1042.5} />
      <T x={1549} y={852} size={47} bold anchor="start">II</T>
      <T x={1549} y={996} size={47} bold anchor="start">III</T>

      {/* panel b */}
      <T x={106} y={1259} size={46} bold>b</T>
      <T x={220} y={1385} size={35.5} bold>Expressed similarly</T>
      <T x={220} y={1428} size={35.5} bold>in <I>aba3-1</I> and <I>aba2-2</I></T>
      <T x={219} y={1483} size={29}>(<I>aba3-1 ≠</I> WT, <I>aba2-2 ≠</I> WT)</T>

      <Venn x={695.8} y={1396.3} />
      <Venn x={1380.8} y={1396.3} />
      <VennLabels dx={0} baseY={1407} counts={vennDownSimilar} boldIdx={1} shortY={1262} longY={1259} x3={808} />
      <VennLabels dx={685} baseY={1407} counts={vennUpSimilar} boldIdx={1} shortY={1262} longY={1259} x3={807} />
      <Arrows />

      <KeyTitle y1={1633.5} y2={1651.5} />
      <ColorKey x={266.4} y={1660.7} />

      <T x={596} y={1577} size={24} bold italic>Short term</T>
      <T x={762} y={1577} size={24} bold italic>Long term</T>
      <T x={558} y={1616.6} size={21}>Control</T>
      <T x={634.7} y={1616.6} size={21}>Stress</T>
      <T x={718} y={1616.6} size={21}>Control</T>
      <T x={794} y={1616.6} size={21}>Stress</T>
      <Bar x1={519.6} x2={593} y1={1624.3} y2={1626.3} />
      <Bar x1={601} x2={672.7} y1={1624.3} y2={1626.3} />
      <Bar x1={679.6} x2={752} y1={1624.3} y2={1626.3} />
      <Bar x1={760.8} x2={832} y1={1624.3} y2={1626.3} />
      <Dendro tree={treeDownSimilar} rows={674} x={265.7} y={1731.5} w={251.9} h={568.5} lw={1.1} />
      <Heat rows={heatDownSimilar} from={1} to={7} x={521.6} y={1731.5} w={151.1} h={568.5} font={24} italicWT axisH={95} pad={11} />
      <Heat rows={heatDownSimilar} from={7} to={13} x={680.8} y={1731.5} w={151} h={568.5} font={24} italicWT axisH={95} pad={11} />
      <Bar x1={836} x2={842.4} y1={1911} y2={2300} />
      <T x={883} y={2124} size={49} bold>IV</T>

      <T x={1274.6} y={1577} size={24} bold italic>Short term</T>
      <T x={1441} y={1577} size={24} bold italic>Long term</T>
      <T x={1237.5} y={1616.6} size={21}>Control</T>
      <T x={1313.7} y={1616.6} size={21}>Stress</T>
      <T x={1397} y={1616.6} size={21}>Control</T>
      <T x={1473.6} y={1616.6} size={21}>Stress</T>
      <Bar x1={1198.7} x2={1272} y1={1624.3} y2={1626.3} />
      <Bar x1={1280} x2={1351.6} y1={1624.3} y2={1626.3} />
      <Bar x1={1358} x2={1431.6} y1={1624.3} y2={1626.3} />
      <Bar x1={1440} x2={1511} y1={1624.3} y2={1626.3} />
      <Dendro tree={treeUpSimilar} rows={498} x={954.8} y={1731.5} w={237.2} h={568.5} lw={1.1} />
      <Heat rows={heatUpSimilar} from={1} to={7} x={1199.6} y={1731.5} w={152.4} h={568.5} font={24} italicWT axisH={95} pad={11} />
      <Heat rows={heatUpSimilar} from={7} to={13} x={1359.4} y={1731.5} w={151.6} h={568.5} font={24} italicWT axisH={95} pad={11} />
      <Bar x1={1518} x2={1523.4} y1={1731.5} y2={2130} />
      <T x={1564} y={1950} size={50} bold>V</T>
    </div>
  );
}
